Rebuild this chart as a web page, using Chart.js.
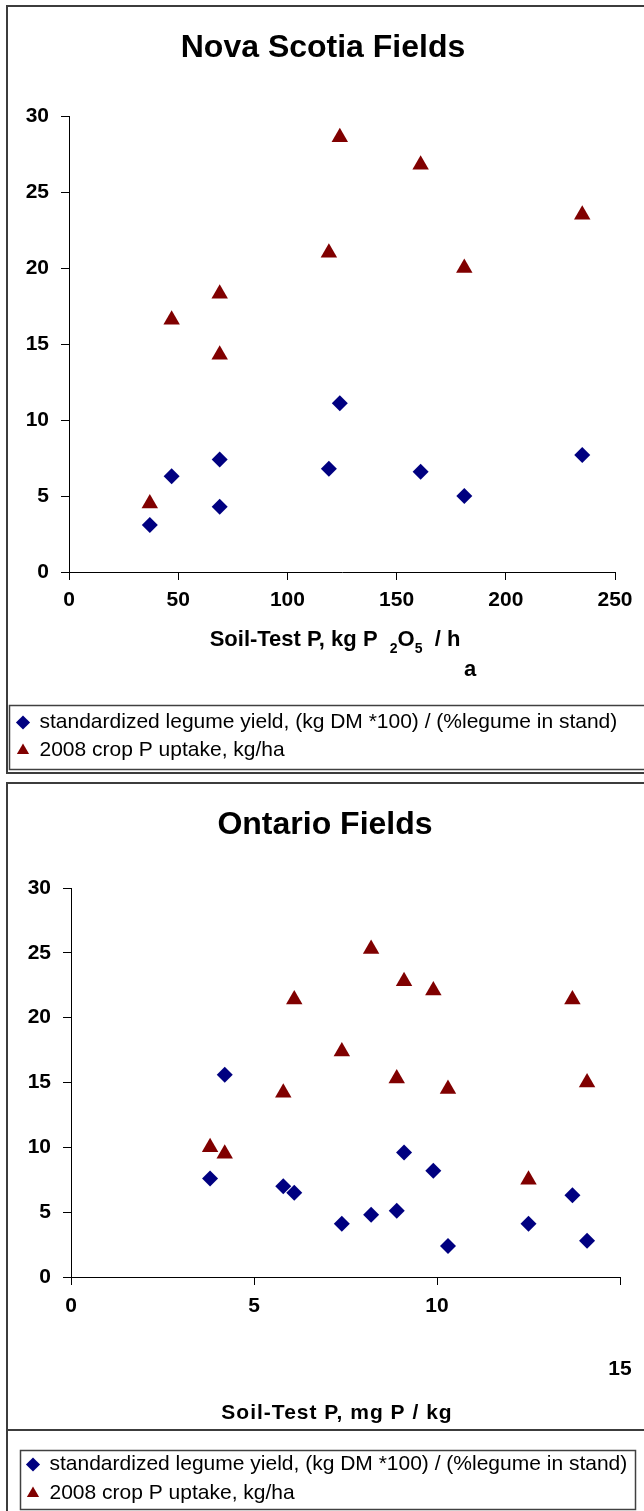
<!DOCTYPE html>
<html>
<head>
<meta charset="utf-8">
<title>Nova Scotia and Ontario Fields</title>
<script src="https://cdn.jsdelivr.net/npm/chart.js@4.4.1/dist/chart.umd.min.js"></script>
<style>
    html, body { margin: 0; padding: 0; background: #fff; overflow: hidden; }
    canvas { position: absolute; left: 0; }
    #nsChart { top: 0; }
    #onChart { top: 778px; }
</style>
</head>
<body>
<canvas id="nsChart" width="644" height="778"></canvas>
<canvas id="onChart" width="644" height="738"></canvas>
<script>
// series names (shared by both charts)
const seriesLabels = [
    'standardized legume yield, (kg DM *100) / (%legume in stand)',
    '2008 crop P uptake, kg/ha'
];

// Nova Scotia fields, soil-test P in kg P2O5/ha
const nsSoilP = [37, 47, 69, 69, 119, 124, 161, 181, 235];
const nsLegumeYield = [3.1, 6.3, 7.4, 4.3, 6.8, 11.1, 6.6, 5.0, 7.7];
const nsPUptake = [4.5, 16.6, 18.3, 14.3, 21.0, 28.6, 26.8, 20.0, 23.5];

// Ontario fields, soil-test P in mg P/kg
const onSoilP = [3.8, 4.2, 5.8, 6.1, 7.4, 8.2, 8.9, 9.1, 9.9, 10.3, 12.5, 13.7, 14.1];
const onLegumeYield = [7.6, 15.6, 7.0, 6.5, 4.1, 4.8, 5.1, 9.6, 8.2, 2.4, 4.1, 6.3, 2.8];
const onPUptake = [10.0, 9.5, 14.2, 21.4, 17.4, 25.3, 15.3, 22.8, 22.1, 14.5, 7.5, 21.4, 15.0];

// tick values
const yTicks = [0, 5, 10, 15, 20, 25, 30];
const nsXTicks = [0, 50, 100, 150, 200, 250];
const onXTicks = [0, 5, 10, 15];

const FONT = '"Liberation Sans", Arial, Helvetica, sans-serif';

// frame, legend box, chart title and axis title (with subscripts)
const decorations = {
    id: 'decorations',
    afterDraw(chart, args, opts) {
        const ctx = chart.ctx;
        ctx.save();

        ctx.strokeStyle = '#3c3c3c';
        ctx.lineWidth = 2;
        opts.frame.forEach(([x1, y1, x2, y2]) => {
            ctx.beginPath();
            ctx.moveTo(x1, y1);
            ctx.lineTo(x2, y2);
            ctx.stroke();
        });

        const b = opts.legendBox;
        ctx.lineWidth = 1.5;
        ctx.strokeStyle = '#404040';
        ctx.strokeRect(b[0], b[1], b[2], b[3]);

        ctx.fillStyle = '#000';
        ctx.textBaseline = 'middle';
        ctx.textAlign = 'center';
        ctx.font = `bold 32px ${FONT}`;
        ctx.fillText(opts.title.text, opts.title.x, opts.title.y);

        const t = opts.axisTitle;
        ctx.textAlign = 'left';
        ctx.letterSpacing = t.spacing || '0px';
        const fontFor = (sub) => sub ? `bold 14px ${FONT}` : `bold ${t.size}px ${FONT}`;
        let total = 0;
        t.runs.forEach(([text, sub]) => {
            ctx.font = fontFor(sub);
            total += ctx.measureText(text).width;
        });
        let x = t.cx - total / 2;
        t.runs.forEach(([text, sub]) => {
            ctx.font = fontFor(sub);
            ctx.fillText(text, x, t.y + (sub ? 9 : 0));
            x += ctx.measureText(text).width;
        });
        (t.extra || []).forEach(([text, ex, ey]) => {
            ctx.font = fontFor(false);
            ctx.textAlign = 'center';
            ctx.fillText(text, ex, ey);
        });

        ctx.restore();
    }
};

function buildChart(canvasId, xs, yieldVals, uptakeVals, setup) {
    const points = (ys) => xs.map((x, i) => ({ x: x, y: ys[i] }));
    const tickFont = { family: FONT, size: 21, weight: 'bold', lineHeight: setup.tickLineHeight || 1.2 };

    return new Chart(document.getElementById(canvasId), {
        type: 'scatter',
        data: {
            datasets: [{
                label: seriesLabels[0],
                data: points(yieldVals),
                pointStyle: 'rectRot',
                pointRadius: 8,
                backgroundColor: '#000080',
                borderColor: '#000080',
                borderWidth: 0
            }, {
                label: seriesLabels[1],
                data: points(uptakeVals),
                pointStyle: 'triangle',
                pointRadius: 9.5,
                backgroundColor: '#800000',
                borderColor: '#800000',
                borderWidth: 0
            }]
        },
        options: {
            responsive: false,
            animation: false,
            events: [],
            layout: { padding: setup.padding },
            scales: {
                x: {
                    type: 'linear',
                    min: 0,
                    max: setup.xTicks[setup.xTicks.length - 1],
                    afterBuildTicks: (scale) => { scale.ticks = setup.xTicks.map(v => ({ value: v })); },
                    afterFit: (scale) => {
                        scale.height = setup.xAxisHeight;
                        // keep the plot's right edge in from the canvas edge
                        scale.paddingRight = setup.plotRightGap;
                    },
                    ticks: {
                        font: tickFont,
                        color: '#000',
                        padding: setup.xTickPad,
                        maxRotation: 0,
                        autoSkip: false,
                        callback: setup.xLabel || ((v) => v)
                    },
                    grid: { drawOnChartArea: false, drawTicks: true, tickLength: 8, color: '#000' },
                    border: { display: true, color: '#000', width: 1 }
                },
                y: {
                    min: 0,
                    max: 30,
                    afterBuildTicks: (scale) => { scale.ticks = yTicks.map(v => ({ value: v })); },
                    afterFit: (scale) => { scale.width = setup.yAxisWidth; },
                    ticks: {
                        font: { family: FONT, size: 21, weight: 'bold' },
                        color: '#000',
                        padding: 12
                    },
                    grid: { drawOnChartArea: false, drawTicks: true, tickLength: 8, color: '#000' },
                    border: { display: true, color: '#000', width: 1 }
                }
            },
            plugins: {
                title: { display: false },
                tooltip: { enabled: false },
                legend: {
                    position: 'bottom',
                    align: 'start',
                    labels: {
                        usePointStyle: true,
                        boxWidth: 12,
                        boxHeight: 10,
                        padding: setup.legendPad,
                        color: '#000',
                        font: { family: FONT, size: 21 }
                    }
                },
                decorations: setup.decor
            }
        },
        plugins: [decorations]
    });
}

buildChart('nsChart', nsSoilP, nsLegumeYield, nsPUptake, {
    xTicks: nsXTicks,
    padding: { left: 10, right: 2, top: 116, bottom: 7 },
    plotRightGap: 29,
    xAxisHeight: 133,
    yAxisWidth: 59,
    xTickPad: 8,
    legendPad: 7,
    decor: {
        frame: [[7, 6, 7, 773], [6, 6, 646, 6], [6, 773, 646, 773]],
        legendBox: [9.5, 705.5, 640, 64],
        title: { text: 'Nova Scotia Fields', x: 323, y: 48 },
        axisTitle: {
            size: 22,
            cx: 335,
            y: 640,
            runs: [['Soil-Test P, kg P  ', false], ['2', true], ['O', false], ['5', true], ['  / h', false]],
            extra: [['a', 470, 670]]
        }
    }
});

buildChart('onChart', onSoilP, onLegumeYield, onPUptake, {
    xTicks: onXTicks,
    padding: { left: 19, right: 4, top: 110, bottom: 2 },
    plotRightGap: 24,
    xAxisHeight: 169,
    yAxisWidth: 52,
    xTickPad: 11,
    tickLineHeight: 1.0,
    // the last tick label sits well below the others
    xLabel: (v) => v === 15 ? ['', '', '', '15'] : v,
    legendPad: 8,
    decor: {
        frame: [[7, 5, 7, 740], [6, 5, 646, 5], [6, 652, 646, 652]],
        legendBox: [20.5, 672.5, 615, 59],
        title: { text: 'Ontario Fields', x: 325, y: 47 },
        axisTitle: {
            size: 21,
            cx: 337,
            y: 635,
            spacing: '1px',
            runs: [['Soil-Test P, mg P / kg', false]]
        }
    }
});
</script>
</body>
</html>
